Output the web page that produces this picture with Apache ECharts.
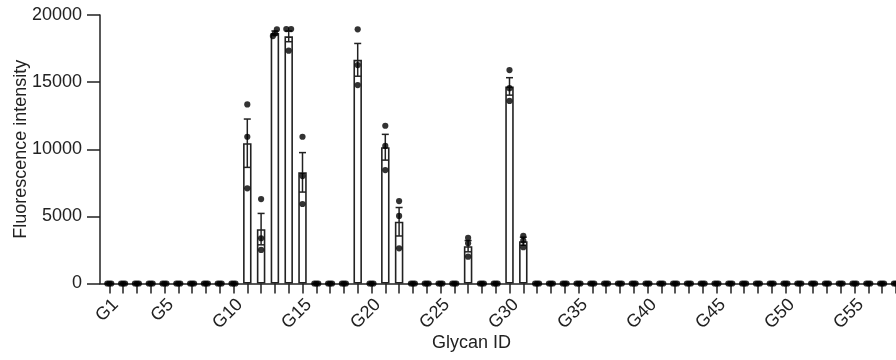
<!DOCTYPE html>
<html>
<head>
<meta charset="utf-8">
<script src="https://cdn.jsdelivr.net/npm/echarts@6/dist/echarts.min.js"></script>
<style>
  html, body { margin: 0; padding: 0; background: #fff; }
  #main { width: 896px; height: 360px; }
</style>
</head>
<body>
<div id="main"></div>
<script>
// glycan ids on the x axis
const glycans = ['G1','G2','G3','G4','G5','G6','G7','G8','G9','G10',
  'G11','G12','G13','G14','G15','G16','G17','G18','G19','G20',
  'G21','G22','G23','G24','G25','G26','G27','G28','G29','G30',
  'G31','G32','G33','G34','G35','G36','G37','G38','G39','G40',
  'G41','G42','G43','G44','G45','G46','G47','G48','G49','G50',
  'G51','G52','G53','G54','G55','G56','G57','G58']

// mean fluorescence (bar height)
const meanVals = [0,0,0,0,0,0,0,0,0,0,
  10450,4050,18660,18410,8280,0,0,0,16660,0,
  10150,4600,0,0,0,0,2780,0,0,14680,
  3150,0,0,0,0,0,0,0,0,0,
  0,0,0,0,0,0,0,0,0,0,
  0,0,0,0,0,0,0,0]

// SEM (error bars)
const semVals = [0,0,0,0,0,0,0,0,0,0,
  1800,1170,150,400,1470,0,0,0,1220,0,
  960,1060,0,0,0,0,420,0,0,650,
  300,0,0,0,0,0,0,0,0,0,
  0,0,0,0,0,0,0,0,0,0,
  0,0,0,0,0,0,0,0]

// replicate points
const rep1 = [0,0,0,0,0,0,0,0,0,0,
  13340,6290,18930,18950,10930,0,0,0,18930,0,
  11750,6140,0,0,0,0,3400,0,0,15900,
  3550,0,0,0,0,0,0,0,0,0,
  0,0,0,0,0,0,0,0,0,0,
  0,0,0,0,0,0,0,0]
const rep2 = [0,0,0,0,0,0,0,0,0,0,
  10930,3370,18630,18950,8000,0,0,0,16270,0,
  10250,5030,0,0,0,0,3000,0,0,14550,
  3200,0,0,0,0,0,0,0,0,0,
  0,0,0,0,0,0,0,0,0,0,
  0,0,0,0,0,0,0,0]
const rep3 = [0,0,0,0,0,0,0,0,0,0,
  7090,2500,18430,17340,5920,0,0,0,14780,0,
  8450,2620,0,0,0,0,2000,0,0,13600,
  2700,0,0,0,0,0,0,0,0,0,
  0,0,0,0,0,0,0,0,0,0,
  0,0,0,0,0,0,0,0]

const yTicks = [0, 5000, 10000, 15000, 20000]

const ink = '#222'
const font = 'Liberation Sans, Arial, sans-serif'

// spread dots sideways when they would sit on top of each other
const reps = [rep1, rep2, rep3]
const offsets = reps.map(() => [])
glycans.forEach((g, i) => {
    const order = [0, 1, 2].sort((a, b) => reps[a][i] - reps[b][i])
    let groups = [[order[0]]]
    for (let k = 1; k < 3; k++) {
        const prev = groups[groups.length - 1]
        if (Math.abs(reps[order[k]][i] - reps[prev[prev.length - 1]][i]) < 330) prev.push(order[k])
        else groups.push([order[k]])
    }
    groups.forEach(gr => {
        const pat = gr.length === 3 ? [-2, 0, 2] : gr.length === 2 ? [-2.4, 2.4] : [0]
        gr.forEach((r, j) => { offsets[r][i] = pat[j] })
    })
})

const dotSeries = reps.map((arr, r) => ({
    type: 'scatter',
    xAxisIndex: 0, yAxisIndex: 0,
    symbol: 'circle',
    symbolSize: 6.2,
    itemStyle: { color: '#000' },
    z: 5,
    data: arr.map((v, i) => ({ value: [i, v], symbolOffset: [offsets[r][i], 0] }))
}))

const chart = echarts.init(document.getElementById('main'))
chart.setOption({
    animation: false,
    title: {
        text: 'Glycan ID', left: 427, top: 329,
        textStyle: { fontFamily: font, fontSize: 18, fontWeight: 'normal', color: ink }
    },
    grid: [
        { left: 102.4, top: 15, width: 800.4, bottom: 76.5, outerBoundsMode: 'none' },
        { left: 100, top: 15, right: 0, bottom: 76.5, outerBoundsMode: 'none' }
    ],
    xAxis: [{
        type: 'category',
        gridIndex: 0,
        data: glycans,
        axisLine: { show: false },
        axisTick: { show: true, alignWithLabel: true, interval: 0, length: 10, lineStyle: { color: ink, width: 1.5 } },
        axisLabel: {
            interval: (i) => i === 0 || (i + 1) % 5 === 0,
            rotate: 45, margin: 12, verticalAlign: 'top',
            fontFamily: font, fontSize: 18, color: ink
        }
    }, {
        type: 'value', gridIndex: 1, min: 0, max: 1,
        axisLine: { show: true, lineStyle: { color: ink, width: 1.5 } },
        axisTick: { show: false }, axisLabel: { show: false }, splitLine: { show: false }
    }],
    yAxis: [{
        type: 'value',
        gridIndex: 0,
        min: yTicks[0], max: yTicks[yTicks.length - 1], interval: 5000,
        offset: 2.4,
        name: 'Fluorescence intensity',
        nameLocation: 'middle', nameGap: 70, nameMoveOverlap: false,
        nameTextStyle: { fontFamily: font, fontSize: 18, color: ink },
        axisLine: { show: true, lineStyle: { color: ink, width: 1.5 } },
        axisTick: { show: true, length: 13, lineStyle: { color: ink, width: 1.5 } },
        axisLabel: { margin: 18, fontFamily: font, fontSize: 18, color: ink, formatter: (v) => String(v) },
        splitLine: { show: false }
    }, {
        type: 'value', gridIndex: 1, show: false, min: 0, max: 1
    }],
    series: [{
        type: 'bar',
        xAxisIndex: 0, yAxisIndex: 0,
        data: meanVals,
        barWidth: 8.5,
        itemStyle: { color: '#fff', borderColor: ink, borderWidth: 1.6 },
        z: 2
    }, {
        type: 'custom',
        xAxisIndex: 0, yAxisIndex: 0,
        z: 4,
        data: meanVals.map((m, i) => [i, m, semVals[i]]),
        renderItem: (params, api) => {
            const i = api.value(0), m = api.value(1), s = api.value(2)
            if (!s) return
            const top = api.coord([i, m + s])
            const bot = api.coord([i, m - s])
            const cap = 3.5
            const st = { stroke: ink, lineWidth: 1.5 }
            return {
                type: 'group',
                children: [
                    { type: 'line', shape: { x1: top[0], y1: top[1], x2: bot[0], y2: bot[1] }, style: st },
                    { type: 'line', shape: { x1: top[0] - cap, y1: top[1], x2: top[0] + cap, y2: top[1] }, style: st },
                    { type: 'line', shape: { x1: bot[0] - cap, y1: bot[1], x2: bot[0] + cap, y2: bot[1] }, style: st }
                ]
            }
        }
    }, ...dotSeries]
})
</script>
</body>
</html>
